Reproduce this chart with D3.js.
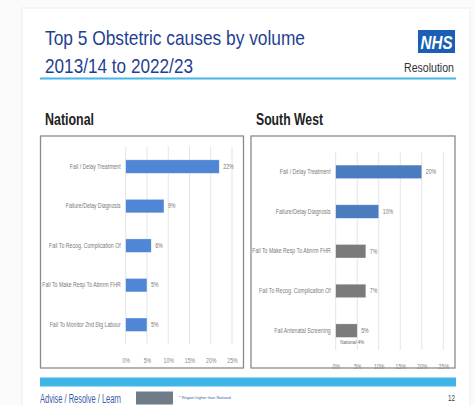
<!DOCTYPE html>
<html><head><meta charset="utf-8">
<script src="https://cdn.jsdelivr.net/npm/d3@7"></script>
<style>
html,body{margin:0;padding:0;background:#fff;}
svg{display:block;}
</style></head>
<body>
<svg id="c" width="475" height="405"></svg>
<script>
const nationalCategories = ["Fail / Delay Treatment","Failure/Delay  Diagnosis","Fail To Recog. Complication Of","Fail To Make Resp To Abnrm FHR","Fail To Monitor 2nd Stg Labour"];
const nationalValues = [22, 9, 6, 5, 5];
const swCategories = ["Fail / Delay Treatment","Failure/Delay  Diagnosis","Fail To Make Resp To Abnrm FHR","Fail To Recog. Complication Of","Fail Antenatal Screening"];
const swValues = [20, 10, 7, 7, 5];
const swHigher = [false, false, true, true, true];
const tickValues = [0, 5, 10, 15, 20, 25];
const tickLabels = ["0%","5%","10%","15%","20%","25%"];
const swNote = "National 4%";

const FONT = "'Liberation Sans Narrow','Arial Narrow','Liberation Sans',Arial,sans-serif";
const svg = d3.select("#c");

function squeeze(sel, f){
  sel.each(function(){
    const l = this.getComputedTextLength();
    d3.select(this).attr("textLength", l*f).attr("lengthAdjust","spacingAndGlyphs");
  });
  return sel;
}
function fitTo(sel, w){ sel.attr("textLength", w).attr("lengthAdjust","spacingAndGlyphs"); return sel; }

// slide frame
svg.append("rect").attr("x",0).attr("y",0).attr("width",475).attr("height",405).attr("fill","#fbfbfb");
svg.append("rect").attr("x",22).attr("y",8).attr("width",448).attr("height",400).attr("fill","#fff").attr("stroke","#ececec");

// title
const title = svg.append("text").attr("font-family",FONT).attr("fill","#1f3f94").attr("font-size",21);
fitTo(title.append("tspan").attr("x",45).attr("y",45).text("Top 5 Obstetric causes by volume"), 260);
fitTo(title.append("tspan").attr("x",45).attr("y",73).text("2013/14 to 2022/23"), 148);
svg.append("rect").attr("x",40).attr("y",77.5).attr("width",416).attr("height",2).attr("fill","#45b6e6");

// NHS logo
svg.append("rect").attr("x",418).attr("y",30).attr("width",37).attr("height",23).attr("fill","#1b5eb5");
fitTo(svg.append("text").attr("x",420.5).attr("y",48.5).attr("font-family","'Liberation Sans',sans-serif")
  .attr("font-weight","bold").attr("font-style","italic").attr("font-size",18).attr("fill","#fff").text("NHS"), 32);
fitTo(svg.append("text").attr("x",404).attr("y",72).attr("font-family",FONT)
  .attr("font-size",12.5).attr("fill","#333").text("Resolution"), 50);

function panel(opt){
  const g = svg.append("g");
  fitTo(g.append("text").attr("x",opt.hx).attr("y",125).attr("font-family",FONT).attr("font-weight","bold")
    .attr("font-size",16).attr("fill","#222").text(opt.heading), opt.hw);
  g.append("rect").attr("x",opt.bx).attr("y",136).attr("width",opt.bw).attr("height",232)
    .attr("fill","#fff").attr("stroke","#8a8a8a").attr("stroke-width",1.3);
  const x = d3.scaleLinear().domain([0,25]).range([opt.x0, opt.x1]);
  const y = d3.scaleBand().domain(opt.cats).range([opt.yTop, opt.yBot]).paddingInner(0.66).paddingOuter(0.33);
  // gridlines
  g.append("g").selectAll("line").data(tickValues).join("line")
    .attr("x1",d=>x(d)).attr("x2",d=>x(d)).attr("y1",opt.gTop).attr("y2",opt.gBot)
    .attr("stroke","#e4e4e4").attr("stroke-width",1);
  // axis
  const ax = g.append("g").attr("transform",`translate(0,${opt.tickY})`)
    .call(d3.axisBottom(x).tickValues(tickValues).tickFormat((d,i)=>tickLabels[i]).tickSize(0).tickPadding(0));
  ax.select(".domain").remove();
  squeeze(ax.selectAll("text").attr("font-family",FONT).attr("font-size",6.5).attr("fill","#888"), 0.8);
  // category labels
  const ay = g.append("g").attr("transform",`translate(${opt.x0-5},0)`)
    .call(d3.axisLeft(y).tickSize(0).tickPadding(0));
  ay.select(".domain").remove();
  squeeze(ay.selectAll("text").attr("font-family",FONT).attr("font-size",6.5).attr("fill","#7a7a7a"), 0.8);
  // bars
  g.selectAll("rect.bar").data(opt.vals).join("rect").attr("class","bar")
    .attr("x",x(0)).attr("y",(d,i)=>y(opt.cats[i])).attr("width",d=>x(d)-x(0)).attr("height",y.bandwidth())
    .attr("fill",(d,i)=>opt.colors(i)).attr("stroke","#fff").attr("stroke-opacity",0.5).attr("stroke-width",0.6);
  squeeze(g.selectAll("text.vl").data(opt.vals).join("text").attr("class","vl")
    .attr("x",d=>x(d)+4).attr("y",(d,i)=>y(opt.cats[i])+y.bandwidth()/2+2.3)
    .attr("font-family",FONT).attr("font-size",6.5).attr("fill","#777").text(d=>d+"%"), 0.8);
  return {x,y,g};
}

panel({heading:"National",hx:45,hw:49,bx:40.5,bw:203,cats:nationalCategories,vals:nationalValues,
  x0:125.7,x1:232,yTop:146.8,yBot:344.5,gTop:146.5,gBot:344,tickY:358,colors:()=> "#4f87d6"});
const sw = panel({heading:"South West",hx:256,hw:67,bx:251,bw:204,cats:swCategories,vals:swValues,
  x0:335.7,x1:443.3,yTop:152,yBot:350.5,gTop:151.5,gBot:350,tickY:364,colors:i=>swHigher[i]?"#7b7b7b":"#4a7cc0"});
squeeze(sw.g.append("text").attr("x",sw.x(5)-5).attr("y",sw.y(swCategories[4])+sw.y.bandwidth()+7)
  .attr("text-anchor","middle").attr("font-family",FONT).attr("font-size",5.5).attr("fill","#666").text(swNote), 0.8);

// footer
svg.append("rect").attr("x",40).attr("y",377.5).attr("width",416).attr("height",9).attr("fill","#3fb5e7");
fitTo(svg.append("text").attr("x",40).attr("y",403).attr("font-family",FONT).attr("font-size",12).attr("fill","#3a5dab").text("Advise / Resolve / Learn"), 81);
svg.append("rect").attr("x",136).attr("y",391.5).attr("width",37).attr("height",13).attr("fill","#6f7c88");
fitTo(svg.append("text").attr("x",179).attr("y",399).attr("font-family",FONT).attr("font-size",4).attr("fill","#3a5dab").text("* Region higher than National"), 52);
fitTo(svg.append("text").attr("x",448).attr("y",401).attr("font-family",FONT).attr("font-size",9).attr("fill","#444").text("12"), 7);
</script>
</body></html>
